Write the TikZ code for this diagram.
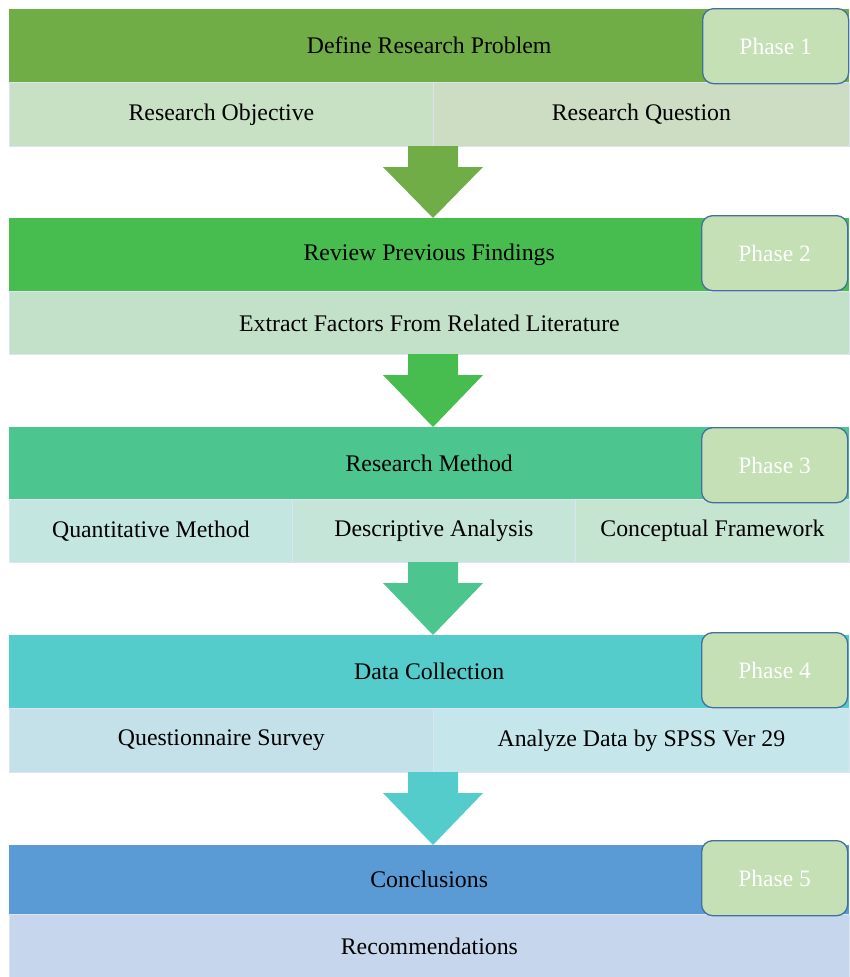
\documentclass[tikz,border=0pt]{standalone}
\usepackage{fontspec}
\setmainfont{Liberation Serif}
\definecolor{topA}{HTML}{70AD47}
\definecolor{topB}{HTML}{46BD4E}
\definecolor{topC}{HTML}{4DC58F}
\definecolor{topD}{HTML}{54CCCB}
\definecolor{topE}{HTML}{5B9BD5}
\definecolor{subAa}{HTML}{C8E0C3}
\definecolor{subAb}{HTML}{CCDDC4}
\definecolor{subB}{HTML}{C3E1C8}
\definecolor{subCa}{HTML}{C4E6E1}
\definecolor{subCb}{HTML}{C4E5D8}
\definecolor{subCc}{HTML}{C5E5D1}
\definecolor{subDa}{HTML}{C4E1E9}
\definecolor{subDb}{HTML}{C5E6EA}
\definecolor{subE}{HTML}{C6D6EC}
\definecolor{phfill}{HTML}{C5E0B4}
\definecolor{phdraw}{HTML}{43709F}
\definecolor{subline}{HTML}{DCE3F2}
\tikzset{
  txt/.style={font=\fontsize{23.8}{28}\selectfont, text=black, inner sep=0pt},
  topbar/.style={txt, anchor=north west, minimum width=840pt, minimum height=#1, draw=none},
  subbar/.style={txt, anchor=north west, minimum height=#1, draw=subline, line width=0.8pt},
  phasebox/.style={anchor=north west, minimum width=146pt, minimum height=75pt, rounded corners=11pt,
     fill=phfill, draw=phdraw, line width=1.3pt, text=white, font=\fontsize{23.5}{28}\selectfont, inner sep=0pt},
}
\begin{document}
\begin{tikzpicture}[x=1pt,y=-1pt]
\useasboundingbox (0,0) rectangle (849,977);
% Section 1
\node[topbar=73pt, fill=topA] (t1) at (9,9) {Define Research Problem};
\node[subbar=64pt, minimum width=424pt, fill=subAa] (s1a) at (9,82) {Research Objective};
\node[subbar=64pt, minimum width=416pt, fill=subAb] (s1b) at (433,82) {Research Question};
\node[phasebox] (p1) at (702,8) {Phase 1};
% Section 2
\node[topbar=73pt, fill=topB] (t2) at (9,218) {Review Previous Findings};
\node[subbar=63pt, minimum width=840pt, fill=subB] (s2) at (9,291) {Extract Factors From Related Literature};
\node[phasebox] (p2) at (701,215) {Phase 2};
% Section 3
\node[topbar=72pt, fill=topC] (t3) at (9,427) {Research Method};
\node[subbar=63pt, minimum width=283pt, fill=subCa] (s3a) at (9,499) {Quantitative Method};
\node[subbar=63pt, minimum width=283pt, fill=subCb] (s3b) at (292,499) {Descriptive Analysis};
\node[subbar=63pt, minimum width=274pt, fill=subCc] (s3c) at (575,499) {Conceptual Framework};
\node[phasebox] (p3) at (701,427) {Phase 3};
% Section 4
\node[topbar=73pt, fill=topD] (t4) at (9,635) {Data Collection};
\node[subbar=64pt, minimum width=424pt, fill=subDa] (s4a) at (9,708) {Questionnaire Survey};
\node[subbar=64pt, minimum width=416pt, fill=subDb] (s4b) at (433,708) {Analyze Data by SPSS Ver 29};
\node[phasebox] (p4) at (701,632) {Phase 4};
% Section 5
\node[topbar=69pt, fill=topE] (t5) at (9,845) {Conclusions};
\node[subbar=63pt, minimum width=840pt, fill=subE] (s5) at (9,914) {Recommendations};
\node[phasebox] (p5) at (701,840) {Phase 5};
% Arrows
\foreach \ya/\yb/\c in {146/218/topA, 354/427/topB, 562/635/topC, 772/845/topD}{
  \fill[\c] (408,\ya) -- (458,\ya) -- (458,\ya+21) -- (483,\ya+21) -- (433,\yb) -- (383,\ya+21) -- (408,\ya+21) -- cycle;
}
\end{tikzpicture}
\end{document}
